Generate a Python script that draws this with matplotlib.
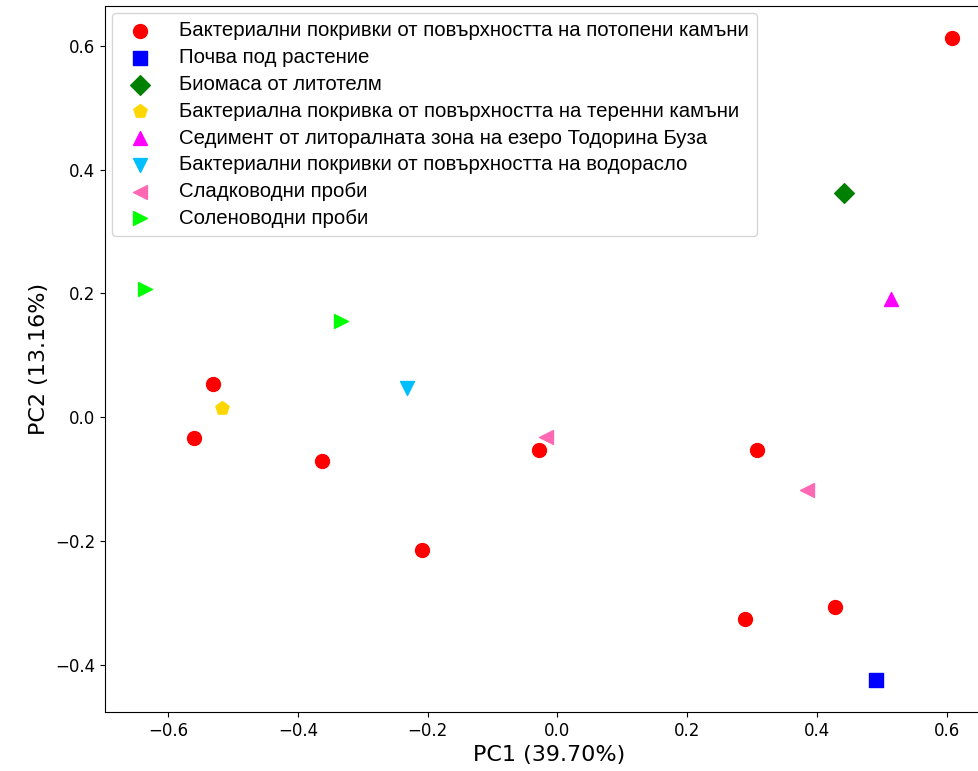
import numpy as np
import matplotlib
matplotlib.use("Agg")
import matplotlib.pyplot as plt

# Групи проби и координати в PCA пространството
labels = ["Бактериални покривки от повърхността на потопени камъни",
          "Почва под растение",
          "Биомаса от литотелм",
          "Бактериална покривка от повърхността на теренни камъни",
          "Седимент от литоралната зона на езеро Тодорина Буза",
          "Бактериални покривки от повърхността на водорасло",
          "Сладководни проби",
          "Соленоводни проби"]
markers = ["o", "s", "D", "p", "^", "v", "<", ">"]
colors = ["red", "blue", "green", "gold", "magenta", "deepskyblue", "hotpink", "lime"]

pc1 = [[0.609, -0.532, -0.561, -0.363, -0.209, -0.028, 0.308, 0.289, 0.428],
       [0.492],
       [0.442],
       [-0.518],
       [0.515],
       [-0.232],
       [-0.017, 0.385],
       [-0.636, -0.334]]
pc2 = [[0.612, 0.053, -0.034, -0.071, -0.215, -0.053, -0.052, -0.325, -0.307],
       [-0.424],
       [0.362],
       [0.015],
       [0.191],
       [0.047],
       [-0.031, -0.118],
       [0.207, 0.155]]

fig = plt.figure(figsize=(9.79, 7.71), dpi=100)
ax = fig.add_axes([0.107, 0.0765, 0.907, 0.9155])

for i in range(len(labels)):
    ax.scatter(pc1[i], pc2[i], marker=markers[i], c=colors[i], s=100, label=labels[i])

ax.set_xlabel("PC1 (39.70%)", fontsize=16)
ax.set_ylabel("PC2 (13.16%)", fontsize=16)
ax.tick_params(labelsize=12)
ax.legend(loc="upper left", prop={"family": "Liberation Sans", "size": 14.7},
          labelspacing=0.38, borderaxespad=0.35, handletextpad=0.9)

plt.savefig("out.png")
